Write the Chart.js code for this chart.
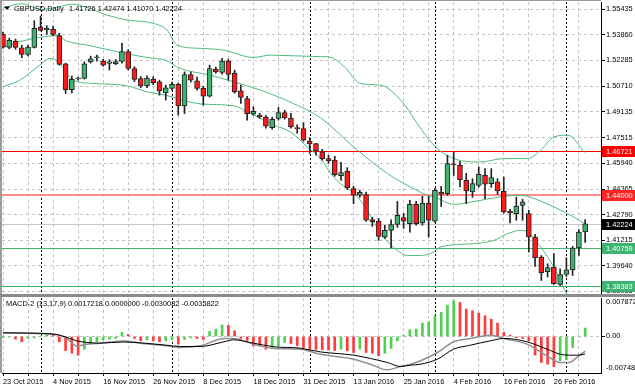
<!DOCTYPE html>
<html>
<head>
<meta charset="utf-8">
<script src="https://cdn.jsdelivr.net/npm/chart.js@4.4.1/dist/chart.umd.min.js"></script>
<style>
  html, body { margin: 0; padding: 0; background: #fff; overflow: hidden; }
  #wrap { position: relative; width: 635px; height: 391px; }
  canvas { position: absolute; left: 0; }
  #main { top: 0; }
  #macd { top: 296px; }
</style>
</head>
<body>
<div id="wrap">
  <canvas id="main" width="635" height="296"></canvas>
  <canvas id="macd" width="635" height="95"></canvas>
</div>
<script>
// GBPUSD daily candles, bar 0 = 23 Oct 2015 ... bar 93 = 4 Mar 2016
const opens = [1.5390,1.5309,1.5348,1.5306,1.5266,1.5309,1.5434,1.5418,1.5420,1.5381,
  1.5208,1.5048,1.5114,1.5118,1.5220,1.5245,1.5224,1.5210,1.5208,1.5222,
  1.5283,1.5178,1.5116,1.5071,1.5114,1.5097,1.5029,1.5056,1.5081,1.4949,
  1.5142,1.5103,1.5056,1.5009,1.5175,1.5155,1.5225,1.5149,1.5041,1.4994,
  1.4897,1.4891,1.4879,1.4815,1.4871,1.4908,1.4873,1.4811,1.4808,1.4731,
  1.4717,1.4665,1.4624,1.4614,1.4519,1.4545,1.4439,1.4398,1.4402,1.4248,
  1.4239,1.4140,1.4182,1.4219,1.4260,1.4223,1.4342,1.4227,1.4350,1.4239,
  1.4418,1.4408,1.4589,1.4583,1.4490,1.4418,1.4459,1.4521,1.4470,1.4480,
  1.4422,1.4301,1.4285,1.4336,1.4285,1.4141,1.4017,1.3927,1.3956,1.3849,
  1.3910,1.3939,1.4073,1.41726];
const highs = [1.5403,1.5366,1.5360,1.5323,1.5323,1.5473,1.5502,1.5442,1.5440,1.5397,
  1.5212,1.5132,1.5126,1.5220,1.5255,1.5262,1.5236,1.5233,1.5234,1.5334,
  1.5295,1.5190,1.5130,1.5134,1.5128,1.5107,1.5076,1.5095,1.5089,1.5158,
  1.5156,1.5126,1.5070,1.5200,1.5187,1.5241,1.5237,1.5169,1.5076,1.5008,
  1.4943,1.4903,1.4891,1.4879,1.4939,1.4922,1.4902,1.4832,1.4845,1.4751,
  1.4718,1.4681,1.4644,1.4638,1.4601,1.4568,1.4453,1.4429,1.4418,1.4262,
  1.4256,1.4212,1.4247,1.4360,1.4286,1.4367,1.4361,1.4392,1.4392,1.4441,
  1.4453,1.4644,1.4665,1.4607,1.4533,1.4500,1.4572,1.4562,1.4562,1.4500,
  1.4510,1.4311,1.4387,1.4373,1.4305,1.4157,1.4027,1.3976,1.4038,1.3945,
  1.4013,1.4083,1.4186,1.42474];
const lows = [1.5304,1.5300,1.5297,1.5245,1.5257,1.5305,1.5410,1.5389,1.5379,1.5200,
  1.5025,1.5029,1.5107,1.5114,1.5212,1.5224,1.5193,1.5169,1.5202,1.5212,
  1.5170,1.5098,1.5060,1.5060,1.5079,1.5015,1.4984,1.5044,1.4891,1.4901,
  1.5095,1.5046,1.4953,1.5003,1.5150,1.5144,1.5107,1.5027,1.4964,1.4861,
  1.4891,1.4872,1.4811,1.4805,1.4861,1.4867,1.4811,1.4780,1.4731,1.4656,
  1.4645,1.4614,1.4595,1.4515,1.4490,1.4434,1.4346,1.4385,1.4237,1.4206,
  1.4120,1.4132,1.4075,1.4200,1.4194,1.4171,1.4213,1.4213,1.4141,1.4231,
  1.4329,1.4398,1.4520,1.4449,1.4346,1.4385,1.4447,1.4377,1.4447,1.4404,
  1.4287,1.4227,1.4244,1.4244,1.4048,1.3960,1.3873,1.3894,1.3849,1.3843,
  1.3898,1.3904,1.4027,1.41070];
const closes = [1.5310,1.5352,1.5309,1.5266,1.5311,1.5426,1.5414,1.5426,1.5389,1.5204,
  1.5048,1.5112,1.5118,1.5208,1.5239,1.5246,1.5199,1.5220,1.5222,1.5283,
  1.5180,1.5112,1.5071,1.5120,1.5091,1.5040,1.5060,1.5081,1.4949,1.5142,
  1.5107,1.5056,1.5009,1.5179,1.5158,1.5225,1.5142,1.5035,1.5000,1.4901,
  1.4915,1.4881,1.4823,1.4865,1.4908,1.4875,1.4819,1.4808,1.4737,1.4714,
  1.4671,1.4624,1.4609,1.4525,1.4537,1.4445,1.4398,1.4416,1.4244,1.4235,
  1.4145,1.4182,1.4217,1.4274,1.4239,1.4342,1.4223,1.4350,1.4244,1.4429,
  1.4404,1.4593,1.4586,1.4494,1.4424,1.4470,1.4527,1.4466,1.4507,1.4424,
  1.4295,1.4289,1.4332,1.4357,1.4141,1.4013,1.3921,1.3952,1.3853,1.3910,
  1.3939,1.4073,1.4171,1.42224];

// Bollinger bands, read as vertices (bar index, price)
const upperBandBar = [0,3,6,9,11,13,16.6,19.8,24,26.2,27.8,31.5,35.2,40,42.7,50.7,52,54.5,57.1,60.3,
  61.9,64.8,65.6,69.1,72,76.3,80,83.8,85.9,88,90.2,93];
const upperBand = [1.5552,1.5578,1.5542,1.5560,1.5575,1.5560,1.5508,1.5478,1.5457,1.5416,
  1.5323,1.5303,1.5292,1.5247,1.5261,1.5252,1.5251,1.5190,1.5087,1.5076,
  1.5045,1.4922,1.4872,1.4696,1.4624,1.4603,1.4624,1.4624,1.4676,1.4757,1.4768,1.4660];
const midBandBar = [0,2.7,5.9,8.6,10.2,13.4,17.1,20.8,24,25.9,28.3,33.1,36.8,41.1,46.4,50.7,56,61.4,65.1,67.8,
  69.1,72,74.7,80,82.7,83.8,88,91.2,93];
const midBand = [1.5309,1.5344,1.5371,1.5381,1.5348,1.5323,1.5292,1.5262,1.5241,1.5231,
  1.5179,1.5138,1.5097,1.5046,1.4963,1.4876,1.4696,1.4532,1.4449,1.4398,
  1.4384,1.4342,1.4356,1.4391,1.4398,1.4391,1.4326,1.4264,1.4220];
const lowBandBar = [0,2.7,5.9,7.5,8.8,11.2,14.4,19.8,23,25.9,31.5,36.8,40,43.2,45.9,48.6,50.7,52.8,57.1,60.8,
  63,64.6,66.7,68.8,69.9,75.2,78.4,80.6,82.7,83.8,85.9,88,90.2,93];
const lowBand = [1.5066,1.5107,1.5200,1.5241,1.5220,1.5107,1.5087,1.5072,1.5035,1.5015,
  1.4961,1.4949,1.4893,1.4831,1.4788,1.4696,1.4626,1.4511,1.4367,1.4140,
  1.4058,1.4027,1.4027,1.4048,1.4079,1.4100,1.4120,1.4161,1.4182,1.4171,
  1.4079,1.3955,1.3780,1.3650];

// horizontal levels on the price chart
const levelValues = [1.46721, 1.44000, 1.42224, 1.40759, 1.38383];

// MACD-2 (13,17,9)
const macdParams = [13, 17, 9];
const macdHist = [-0.00027,-0.00014,-0.00055,-0.00109,-0.00041,-0.00031,0.00010,0.00041,0.00021,-0.00109,
  -0.00287,-0.00342,-0.00383,-0.00260,-0.00158,-0.00109,-0.00068,-0.00055,-0.00041,0.00082,
  0.00041,-0.00041,-0.00088,-0.00068,-0.00088,-0.00109,-0.00088,-0.00068,-0.00158,-0.00062,
  -0.00031,-0.00041,-0.00062,0.00103,0.00150,0.00236,0.00226,0.00117,-0.00041,-0.00082,
  -0.00191,-0.00197,-0.00260,-0.00250,-0.00191,-0.00123,-0.00144,-0.00185,-0.00226,-0.00260,
  -0.00267,-0.00273,-0.00279,-0.00287,-0.00260,-0.00293,-0.00328,-0.00260,-0.00328,-0.00342,
  -0.00396,-0.00342,-0.00246,-0.00088,0.00021,0.00137,0.00150,0.00273,0.00301,0.00424,
  0.00492,0.00642,0.00732,0.00697,0.00560,0.00527,0.00478,0.00424,0.00355,0.00273,
  0.00082,0.00027,-0.00027,-0.00041,-0.00088,-0.00383,-0.00533,-0.00568,-0.00615,-0.00498,
  -0.00465,-0.00226,-0.00010,0.0017218];
const macdBar = [0,8,10,11.8,13.4,15.5,19.2,22.2,26.2,28.3,31.5,35.3,36.8,40,43.3,47.5,50.7,56,58.7,61.4,
  63.5,65.1,66.7,69.4,72,74.7,77.9,80,83.7,86.9,89,90.4,92,93];
const macdLine = [0.00074,0.00047,-0.00021,-0.00193,-0.00158,-0.00137,-0.00092,-0.00144,-0.00191,-0.00226,
  -0.00191,-0.00041,-0.00041,-0.00158,-0.00246,-0.00260,-0.00363,-0.00465,-0.00568,-0.00683,
  -0.00615,-0.00568,-0.00498,-0.00328,-0.00109,-0.00041,0.00027,-0.00041,-0.00158,-0.00396,
  -0.00533,-0.00533,-0.00396,-0.0030082];
const signalLine = [0.00074,0.00051,-0.00010,-0.00090,-0.00123,-0.00137,-0.00113,-0.00133,-0.00180,-0.00205,
  -0.00205,-0.00109,-0.00068,-0.00137,-0.00211,-0.00240,-0.00316,-0.00383,-0.00451,-0.00533,
  -0.00615,-0.00588,-0.00568,-0.00465,-0.00260,-0.00178,-0.00088,-0.00041,-0.00109,-0.00260,
  -0.00363,-0.00383,-0.00383,-0.0035822];

// axes
const priceTicks = [1.55435,1.53860,1.52285,1.50710,1.49135,1.47515,1.45940,1.44365,1.42790,1.41215,1.39640,1.38065];
const macdMax = 0.007872, macdMin = -0.007480;
const dateBars = [0,8,16,24,32,40,48,56,64,72,80,88];
const dateLabels = ['23 Oct 2015','4 Nov 2015','16 Nov 2015','26 Nov 2015','8 Dec 2015','18 Dec 2015',
  '31 Dec 2015','13 Jan 2016','25 Jan 2016','4 Feb 2016','16 Feb 2016','26 Feb 2016'];
const separatorBars = [6, 27, 49, 69, 90];   // first bar of each month

// ---- look ----
const FONT_SIZE = 7.4;
Chart.defaults.font.family = '"Liberation Sans", Arial, sans-serif';
Chart.defaults.font.size = FONT_SIZE;
Chart.defaults.color = '#000';
const FONT = FONT_SIZE + 'px "Liberation Sans", Arial, sans-serif';
const X_MIN = -0.16, X_MAX = 95.53;
const Y_MIN = 1.37897, Y_MAX = 1.55885;
const GRID = '#c4c4c4';
const BULL = '#3cb371', BEAR = '#ff1a1a', WICK = '#222222';
const BAND = '#4dbd7e';
const HIST_UP = '#4fd04f', HIST_DN = '#ff3a3a';
const levelStyle = [
  { line: '#ff0000', width: 1, box: '#ff0000' },
  { line: '#ff8c8c', width: 2, box: '#ff2424' },
  { line: '#c8c8c8', width: 1, box: '#000000' },
  { line: '#3cb371', width: 1, box: '#3cb371' },
  { line: '#3cb371', width: 1, box: '#3cb371' }
];

const gridBars = [];
for (let b = 0; b <= 92; b += 4) gridBars.push(b);
const xy = (idx, vals) => idx.map((x, k) => ({ x: x, y: vals[k] }));

function xScale(showLabels) {
  return {
    type: 'linear', min: X_MIN, max: X_MAX, offset: false,
    afterBuildTicks: s => { s.ticks = gridBars.map(v => ({ value: v })); },
    ticks: {
      display: showLabels, autoSkip: false, maxRotation: 0, minRotation: 0, align: 'start', padding: 2,
      callback: v => { const k = dateBars.indexOf(v); return k >= 0 ? dateLabels[k] : ''; }
    },
    grid: { color: GRID, offset: false, drawTicks: showLabels, tickLength: 3, tickColor: '#000', tickBorderDash: [] },
    border: { display: showLabels, color: '#000', dash: [3, 3] },
    afterFit: s => { s.height = showLabels ? 18 : 0; s.paddingLeft = 0; s.paddingRight = 0; }
  };
}

const separators = {
  id: 'separators',
  beforeDatasetsDraw(chart) {
    const { ctx, chartArea: a, scales: { x } } = chart;
    ctx.save();
    ctx.strokeStyle = '#000';
    ctx.lineWidth = 1;
    ctx.setLineDash([2, 2]);
    separatorBars.forEach(b => {
      const px = Math.round(x.getPixelForValue(b)) + 0.5;
      ctx.beginPath(); ctx.moveTo(px, a.top); ctx.lineTo(px, a.bottom); ctx.stroke();
    });
    ctx.restore();
  }
};

const levels = {
  id: 'levels',
  beforeDatasetsDraw(chart) {
    const { ctx, chartArea: a, scales: { y } } = chart;
    ctx.save();
    levelValues.forEach((v, k) => {
      const st = levelStyle[k];
      const py = Math.round(y.getPixelForValue(v)) + (st.width === 1 ? 0.5 : 0);
      ctx.strokeStyle = st.line;
      ctx.lineWidth = st.width;
      ctx.beginPath(); ctx.moveTo(a.left, py); ctx.lineTo(a.right, py); ctx.stroke();
    });
    ctx.restore();
  },
  afterDraw(chart) {
    const { ctx, chartArea: a, scales: { y } } = chart;
    ctx.save();
    // frame
    ctx.fillStyle = '#9c9c9c';
    ctx.fillRect(0, 0, 2, chart.height);
    ctx.fillRect(0, 0, a.right, 1);
    ctx.fillStyle = '#8a8a8a';
    ctx.fillRect(0, chart.height - 2, chart.width, 2);
    // level labels on the price axis
    ctx.font = FONT;
    ctx.textBaseline = 'middle';
    levelValues.forEach((v, k) => {
      const py = Math.round(y.getPixelForValue(v));
      ctx.fillStyle = levelStyle[k].box;
      ctx.fillRect(a.right + 1, py - 5, chart.width - a.right, 11);
      ctx.fillStyle = '#fff';
      ctx.fillText(v.toFixed(5), a.right + 5, py + 0.5);
    });
    // header
    ctx.fillStyle = '#000';
    ctx.beginPath(); ctx.moveTo(4, 6.5); ctx.lineTo(10, 6.5); ctx.lineTo(7, 10); ctx.closePath(); ctx.fill();
    const n = closes.length - 1;
    ctx.fillText('GBPUSD,Daily', 14, 8.5);
    ctx.fillText([opens[n], highs[n], lows[n], closes[n]].map(v => v.toFixed(5)).join(' '), 69, 8.5);
    ctx.restore();
  }
};

const idx = closes.map((_, i) => i);
const isBull = i => closes[i] >= opens[i];

new Chart(document.getElementById('main'), {
  type: 'bar',
  data: {
    datasets: [
      {
        type: 'bar', label: 'body', order: 1, grouped: false,
        data: idx.map(i => ({ x: i, y: [opens[i], closes[i]] })),
        backgroundColor: c => isBull(c.dataIndex) ? BULL : BEAR,
        borderColor: WICK, borderWidth: 1, borderSkipped: false,
        barThickness: 5, minBarLength: 1
      },
      {
        type: 'bar', label: 'wick', order: 2, grouped: false,
        data: idx.map(i => ({ x: i, y: [lows[i], highs[i]] })),
        backgroundColor: WICK, borderWidth: 0, barThickness: 1
      },
      { type: 'line', label: 'upper', order: 3, data: xy(upperBandBar, upperBand),
        borderColor: BAND, borderWidth: 1, pointRadius: 0, cubicInterpolationMode: 'monotone' },
      { type: 'line', label: 'middle', order: 3, data: xy(midBandBar, midBand),
        borderColor: BAND, borderWidth: 1, pointRadius: 0, cubicInterpolationMode: 'monotone' },
      { type: 'line', label: 'lower', order: 3, data: xy(lowBandBar, lowBand),
        borderColor: BAND, borderWidth: 1, pointRadius: 0, cubicInterpolationMode: 'monotone' }
    ]
  },
  options: {
    responsive: false, animation: false, devicePixelRatio: 1,
    layout: { padding: { left: 2, top: 2, right: 0, bottom: 2 } },
    plugins: { legend: { display: false }, tooltip: { enabled: false } },
    scales: {
      x: xScale(false),
      y: {
        position: 'right', min: Y_MIN, max: Y_MAX,
        afterBuildTicks: s => { s.ticks = priceTicks.map(v => ({ value: v })); },
        ticks: { autoSkip: false, padding: 1, callback: v => v.toFixed(5) },
        grid: { color: GRID, tickLength: 4, tickColor: '#000', tickBorderDash: [] },
        border: { color: '#000', dash: [3, 3] },
        afterFit: s => { s.width = 34; s.paddingTop = 0; s.paddingBottom = 0; }
      }
    }
  },
  plugins: [separators, levels]
});

const macdDecor = {
  id: 'macdDecor',
  afterDraw(chart) {
    const { ctx, chartArea: a } = chart;
    ctx.save();
    ctx.fillStyle = '#9c9c9c';
    ctx.fillRect(0, 0, 2, a.bottom);
    ctx.fillStyle = '#8a8a8a';
    ctx.fillRect(0, 0, chart.width, 1);
    ctx.fillStyle = '#000';
    ctx.font = FONT;
    ctx.textBaseline = 'middle';
    ctx.fillText(macdMax.toFixed(6), a.right + 5, a.top + 4);
    ctx.fillText(macdMin.toFixed(6), a.right + 5, a.bottom - 5);
    const n = macdHist.length - 1;
    const vals = [macdHist[n], 0, macdLine[macdLine.length - 1], signalLine[signalLine.length - 1]];
    ctx.fillText('MACD-2 (' + macdParams.join(',') + ') ' + vals.map(v => v.toFixed(7)).join(' '), 6, 7.5);
    ctx.restore();
  }
};

new Chart(document.getElementById('macd'), {
  type: 'bar',
  data: {
    datasets: [
      {
        type: 'line', label: 'MACD', order: 1, data: xy(macdBar, macdLine),
        borderColor: '#8f8f8f', borderWidth: 1.5, pointRadius: 0, cubicInterpolationMode: 'monotone'
      },
      {
        type: 'line', label: 'Signal', order: 0, data: xy(macdBar, signalLine),
        borderColor: '#000', borderWidth: 1, pointRadius: 0, cubicInterpolationMode: 'monotone'
      },
      {
        type: 'bar', label: 'hist', order: 2, grouped: false,
        data: macdHist.map((v, i) => ({ x: i, y: v })),
        backgroundColor: c => (c.dataIndex === 0 || macdHist[c.dataIndex] >= macdHist[c.dataIndex - 1]) ? HIST_UP : HIST_DN,
        borderWidth: 0, barThickness: 2
      }
    ]
  },
  options: {
    responsive: false, animation: false, devicePixelRatio: 1,
    layout: { padding: { left: 2, top: 2, right: 0, bottom: 0 } },
    plugins: { legend: { display: false }, tooltip: { enabled: false } },
    scales: {
      x: xScale(true),
      y: {
        position: 'right', min: macdMin, max: macdMax,
        afterBuildTicks: s => { s.ticks = [{ value: 0 }]; },
        ticks: { padding: 1, callback: v => v.toFixed(2) },
        grid: { color: GRID, tickLength: 4, tickColor: '#000', tickBorderDash: [] },
        border: { color: '#000', dash: [3, 3] },
        afterFit: s => { s.width = 34; s.paddingTop = 0; s.paddingBottom = 0; }
      }
    }
  },
  plugins: [separators, macdDecor]
});
</script>
</body>
</html>
